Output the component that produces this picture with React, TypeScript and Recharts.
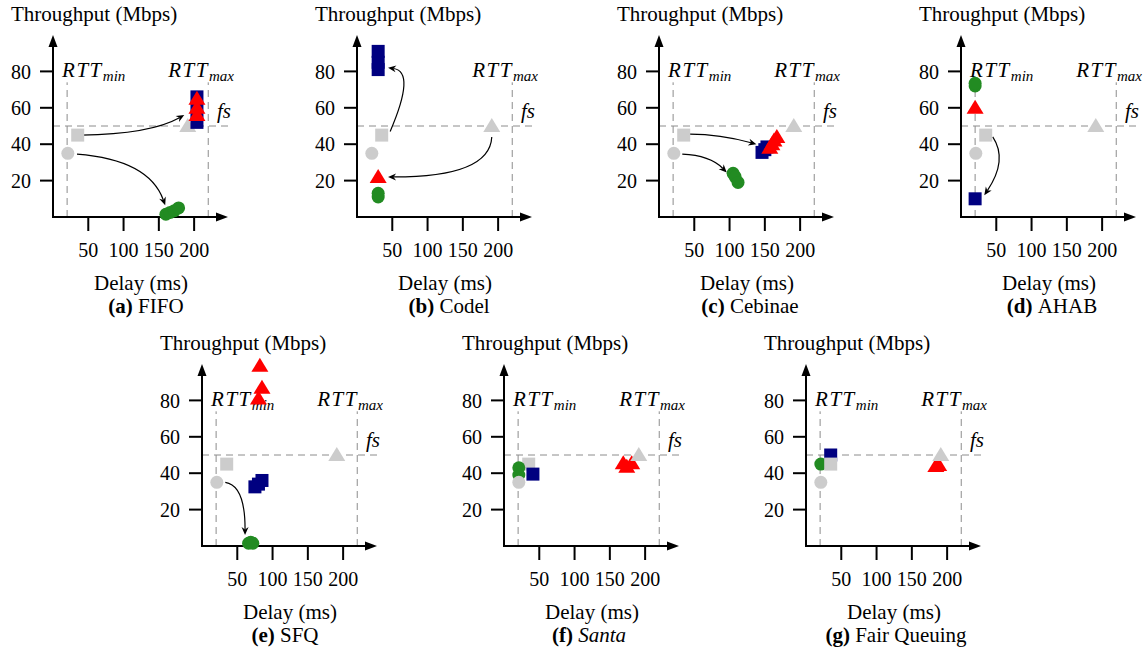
import React from 'react';
import { ScatterChart, Scatter, XAxis, YAxis, ReferenceLine } from 'recharts';

type Pt = { x: number; y: number };

// shared axis values
const xTicks = [50, 100, 150, 200];
const yTicks = [20, 40, 60, 80];
const xMax = 248;
const yMax = 100;
const rttMin = 20;
const rttMax = 220;
const fairShare = 50;
const markerTop = 74;

// grey reference points (each flow alone)
const baseCircle: Pt[] = [{ x: 21, y: 35 }];
const baseSquare: Pt[] = [{ x: 35, y: 45 }];
const baseTriangle: Pt[] = [{ x: 191, y: 50 }];

// (a) FIFO
const fifoBlue: Pt[] = [{ x: 204, y: 66 }, { x: 204, y: 59 }, { x: 204, y: 52 }];
const fifoRed: Pt[] = [{ x: 204, y: 65 }, { x: 204, y: 60 }, { x: 204, y: 56 }];
const fifoGreen: Pt[] = [{ x: 160, y: 1.5 }, { x: 166, y: 2.5 }, { x: 172, y: 3.5 }, { x: 178, y: 5 }];

// (b) Codel
const codelBlue: Pt[] = [{ x: 30, y: 91 }, { x: 30, y: 85 }, { x: 30, y: 81 }];
const codelRed: Pt[] = [{ x: 30, y: 22 }];
const codelGreen: Pt[] = [{ x: 30, y: 11 }, { x: 30, y: 13 }];

// (c) Cebinae
const cebBlue: Pt[] = [{ x: 146, y: 35.5 }, { x: 150, y: 37 }, { x: 153, y: 38.5 }];
const cebRed: Pt[] = [{ x: 157, y: 38 }, { x: 160, y: 40 }, { x: 163, y: 42 }, { x: 167, y: 44 }];
const cebGreen: Pt[] = [{ x: 105, y: 24 }, { x: 108, y: 22 }, { x: 112, y: 19 }];

// (d) AHAB
const ahabBlue: Pt[] = [{ x: 20, y: 10 }];
const ahabRed: Pt[] = [{ x: 20, y: 60 }];
const ahabGreen: Pt[] = [{ x: 20, y: 72 }, { x: 20, y: 73.5 }];

// (e) SFQ
const sfqBlue: Pt[] = [{ x: 75, y: 32.5 }, { x: 80, y: 34 }, { x: 85, y: 36 }];
const sfqRed: Pt[] = [{ x: 82, y: 99 }, { x: 85, y: 87 }, { x: 80, y: 81 }];
const sfqGreen: Pt[] = [{ x: 66, y: 1.5 }, { x: 69, y: 2 }, { x: 72, y: 1.5 }];

// (f) Santa
const santaBlue: Pt[] = [{ x: 41, y: 39.5 }];
const santaRed: Pt[] = [{ x: 169, y: 45.5 }, { x: 174, y: 43.5 }, { x: 181, y: 45.5 }];
const santaGreen: Pt[] = [{ x: 21, y: 43 }, { x: 21, y: 39 }];

// (g) Fair Queuing
const fqBlue: Pt[] = [{ x: 35, y: 50 }];
const fqRed: Pt[] = [{ x: 184, y: 44 }, { x: 188, y: 44.5 }];
const fqGreen: Pt[] = [{ x: 21, y: 45 }];

// annotation arrows: bend = sideways pull, shift = pull along the chord
const fifoArrows = [
  { from: { x: 40, y: 45 }, to: { x: 186, y: 56 }, bend: 0.117, shift: 0.146 },
  { from: { x: 34, y: 34.5 }, to: { x: 159, y: 6.5 }, bend: -0.305, shift: 0.137 },
];
const codelArrows = [
  { from: { x: 47, y: 47 }, to: { x: 44, y: 82 }, bend: 0.435, shift: 0.424 },
  { from: { x: 191, y: 44 }, to: { x: 44, y: 22 }, bend: -0.33, shift: -0.354 },
];
const cebArrows = [
  { from: { x: 44, y: 45.5 }, to: { x: 138, y: 40 }, bend: -0.065, shift: -0.062 },
  { from: { x: 33, y: 34.5 }, to: { x: 96, y: 24.5 }, bend: -0.195, shift: 0.044 },
];
const ahabArrows = [{ from: { x: 45, y: 44 }, to: { x: 33, y: 12 }, bend: -0.313, shift: -0.152 }];
const sfqArrows = [{ from: { x: 33, y: 35 }, to: { x: 61, y: 6 }, bend: -0.312, shift: -0.326 }];

const NAVY = '#000080';
const RED = '#ff0000';
const GREEN = '#228b22';
const GREY = '#cccccc';
const DASH = '#8c8c8c';
const SERIF = '"Liberation Serif", "Times New Roman", serif';

const W = 300;
const H = 330;

type Kind = 'circle' | 'square' | 'triangle';
type Series = { data: Pt[]; kind: Kind; color: string };
type Arrow = { from: Pt; to: Pt; bend: number; shift: number };
type PanelCfg = {
  tag: string; name: string; italic?: boolean; left: number; top: number;
  capX: number; showMin: boolean; series: Series[]; arrows: Arrow[];
};

const gC: Series = { data: baseCircle, kind: 'circle', color: GREY };
const gS: Series = { data: baseSquare, kind: 'square', color: GREY };
const gT: Series = { data: baseTriangle, kind: 'triangle', color: GREY };

const panels: PanelCfg[] = [
  {
    tag: '(a)', name: 'FIFO', left: 0, top: 0, capX: 146, showMin: true, arrows: fifoArrows,
    series: [gC, gS, gT, { data: fifoBlue, kind: 'square', color: NAVY }, { data: fifoRed, kind: 'triangle', color: RED }, { data: fifoGreen, kind: 'circle', color: GREEN }],
  },
  {
    tag: '(b)', name: 'Codel', left: 304, top: 0, capX: 145, showMin: false, arrows: codelArrows,
    series: [gC, gS, gT, { data: codelBlue, kind: 'square', color: NAVY }, { data: codelRed, kind: 'triangle', color: RED }, { data: codelGreen, kind: 'circle', color: GREEN }],
  },
  {
    tag: '(c)', name: 'Cebinae', left: 606, top: 0, capX: 144, showMin: true, arrows: cebArrows,
    series: [gC, gS, gT, { data: cebBlue, kind: 'square', color: NAVY }, { data: cebRed, kind: 'triangle', color: RED }, { data: cebGreen, kind: 'circle', color: GREEN }],
  },
  {
    tag: '(d)', name: 'AHAB', left: 908, top: 0, capX: 144, showMin: true, arrows: ahabArrows,
    series: [gC, gS, gT, { data: ahabGreen, kind: 'circle', color: GREEN }, { data: ahabRed, kind: 'triangle', color: RED }, { data: ahabBlue, kind: 'square', color: NAVY }],
  },
  {
    tag: '(e)', name: 'SFQ', left: 149, top: 329, capX: 136, showMin: true, arrows: sfqArrows,
    series: [gC, gS, gT, { data: sfqBlue, kind: 'square', color: NAVY }, { data: sfqGreen, kind: 'circle', color: GREEN }, { data: sfqRed, kind: 'triangle', color: RED }],
  },
  {
    tag: '(f)', name: 'Santa', italic: true, left: 451, top: 329, capX: 138, showMin: true, arrows: [],
    series: [gS, { data: santaGreen, kind: 'circle', color: GREEN }, gC, { data: santaBlue, kind: 'square', color: NAVY }, { data: santaRed, kind: 'triangle', color: RED }, gT],
  },
  {
    tag: '(g)', name: 'Fair Queuing', left: 753, top: 329, capX: 143, showMin: true, arrows: [],
    series: [{ data: fqBlue, kind: 'square', color: NAVY }, { data: fqGreen, kind: 'circle', color: GREEN }, { data: fqRed, kind: 'triangle', color: RED }, gC, gS, gT],
  },
];

const makeShape = (kind: Kind, color: string) => (p: any) => {
  const { cx, cy } = p;
  if (kind === 'circle') return <circle cx={cx} cy={cy} r={6.5} fill={color} />;
  if (kind === 'square') return <rect x={cx - 6.5} y={cy - 6.5} width={13} height={13} fill={color} />;
  return <polygon points={`${cx},${cy - 8} ${cx - 8.5},${cy + 6} ${cx + 8.5},${cy + 6}`} fill={color} />;
};

const axisArrow = (p: any) => {
  const { x1, y1, x2, y2 } = p;
  const len = Math.hypot(x2 - x1, y2 - y1) || 1;
  const ux = (x2 - x1) / len;
  const uy = (y2 - y1) / len;
  const hl = 12;
  const hw = 4.5;
  const bx = x2 - ux * hl;
  const by = y2 - uy * hl;
  return (
    <g>
      <line x1={x1 - ux} y1={y1 - uy} x2={bx + ux} y2={by + uy} stroke="#000" strokeWidth={2} />
      <polygon points={`${x2},${y2} ${bx - uy * hw},${by + ux * hw} ${bx + uy * hw},${by - ux * hw}`} fill="#000" />
    </g>
  );
};

const curvedArrow = (bend: number, shift: number) => (p: any) => {
  const { x1, y1, x2, y2 } = p;
  const dx = x2 - x1;
  const dy = y2 - y1;
  const cx = (x1 + x2) / 2 - bend * dy + shift * dx;
  const cy = (y1 + y2) / 2 + bend * dx + shift * dy;
  let tx = x2 - cx;
  let ty = y2 - cy;
  const l = Math.hypot(tx, ty) || 1;
  tx /= l;
  ty /= l;
  const hl = 8;
  const hw = 3.5;
  const bx = x2 - tx * hl;
  const by = y2 - ty * hl;
  const nx = x2 - tx * (hl - 2.5);
  const ny = y2 - ty * (hl - 2.5);
  return (
    <g>
      <path d={`M${x1},${y1} Q${cx},${cy} ${nx},${ny}`} fill="none" stroke="#000" strokeWidth={1.2} />
      <polygon
        points={`${x2},${y2} ${bx - ty * hw},${by + tx * hw} ${nx},${ny} ${bx + ty * hw},${by - tx * hw}`}
        fill="#000"
      />
    </g>
  );
};

const rttShape = (sub: string, dx: number) => (p: any) => {
  const top = Math.min(p.y1, p.y2);
  return (
    <g>
      <line x1={p.x1} y1={p.y1} x2={p.x2} y2={p.y2} stroke={DASH} strokeWidth={1} strokeDasharray="7 5" />
      <text x={p.x1 + dx} y={top - 5} fontFamily={SERIF} fontStyle="italic" fontSize={21} fill="#000">
        <tspan letterSpacing={1.5}>RTT</tspan>
        <tspan fontSize={15} dy={4}>{sub}</tspan>
      </text>
    </g>
  );
};

const fsShape = (p: any) => (
  <g>
    <line x1={p.x1} y1={p.y1} x2={p.x2} y2={p.y2} stroke={DASH} strokeWidth={1} strokeDasharray="7 5" />
    <text x={p.x2 - 11} y={p.y1 - 8} fontFamily={SERIF} fontStyle="italic" fontSize={21} fill="#000">fs</text>
  </g>
);

const tickStyle = { fill: '#000', fontSize: 20, fontFamily: SERIF };
const tickLineStyle = { stroke: '#000', strokeWidth: 2 };

function Panel({ cfg }: { cfg: PanelCfg }) {
  return (
    <div style={{ position: 'absolute', left: cfg.left, top: cfg.top, width: W, height: H }}>
      <ScatterChart width={W} height={H} margin={{ top: 35, right: 72, bottom: 83, left: 0 }}>
        <XAxis
          type="number" dataKey="x" domain={[0, xMax]} ticks={xTicks} interval={0}
          tickSize={14} tickMargin={12} height={30}
          axisLine={false} tickLine={tickLineStyle} tick={tickStyle}
        />
        <YAxis
          type="number" dataKey="y" domain={[0, yMax]} ticks={yTicks} interval={0}
          tickSize={13} tickMargin={9} width={53}
          axisLine={false} tickLine={tickLineStyle} tick={tickStyle}
        />
        {cfg.showMin && (
          <ReferenceLine segment={[{ x: rttMin, y: 0 }, { x: rttMin, y: markerTop }]} ifOverflow="visible" shape={rttShape('min', -5)} />
        )}
        <ReferenceLine segment={[{ x: rttMax, y: 0 }, { x: rttMax, y: markerTop }]} ifOverflow="visible" shape={rttShape('max', -40)} />
        <ReferenceLine segment={[{ x: 0, y: fairShare }, { x: xMax, y: fairShare }]} ifOverflow="visible" shape={fsShape} />
        <ReferenceLine segment={[{ x: 0, y: 0 }, { x: xMax, y: 0 }]} ifOverflow="visible" shape={axisArrow} />
        <ReferenceLine segment={[{ x: 0, y: 0 }, { x: 0, y: yMax }]} ifOverflow="visible" shape={axisArrow} />
        {cfg.series.map((s, i) => (
          <Scatter key={i} data={s.data} shape={makeShape(s.kind, s.color)} isAnimationActive={false} />
        ))}
        {cfg.arrows.map((a, i) => (
          <ReferenceLine key={'arrow' + i} segment={[a.from, a.to]} ifOverflow="visible" shape={curvedArrow(a.bend, a.shift)} />
        ))}
      </ScatterChart>
      <svg width={W} height={H} style={{ position: 'absolute', left: 0, top: 0, pointerEvents: 'none' }}>
        <text x={11} y={21} fontFamily={SERIF} fontSize={21} fill="#000">Throughput (Mbps)</text>
        <text x={141} y={290} textAnchor="middle" fontFamily={SERIF} fontSize={21} fill="#000">Delay (ms)</text>
        <text x={cfg.capX} y={313} textAnchor="middle" fontFamily={SERIF} fontSize={21} fill="#000">
          <tspan fontWeight="bold">{cfg.tag}</tspan>
          <tspan fontStyle={cfg.italic ? 'italic' : 'normal'}>{'\u00a0' + cfg.name}</tspan>
        </text>
      </svg>
    </div>
  );
}

export default function App() {
  return (
    <div style={{ position: 'absolute', left: 0, top: 0, width: 1143, height: 651, background: '#fff', overflow: 'hidden' }}>
      {panels.map((p) => (
        <Panel key={p.tag} cfg={p} />
      ))}
    </div>
  );
}
